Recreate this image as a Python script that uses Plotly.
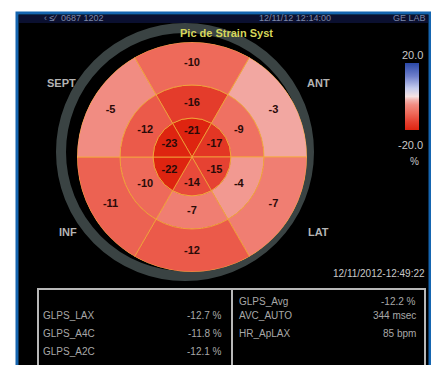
import plotly.graph_objects as go

W, H = 431, 365

# ---------------- data ----------------
segment_angles = [90, 30, -30, -90, 210, 150]          # segment centres (deg)
apical_vals = [-21, -17, -15, -14, -22, -23]
mid_vals = [-16, -9, -4, -7, -10, -12]
basal_vals = [-10, -3, -7, -12, -11, -5]
wall_labels = ["SEPT", "ANT", "INF", "LAT"]
table_left_labels = ["GLPS_LAX", "GLPS_A4C", "GLPS_A2C"]
table_left_values = ["-12.7 %", "-11.8 %", "-12.1 %"]
table_right_labels = ["GLPS_Avg", "AVC_AUTO", "HR_ApLAX"]
table_right_values = ["-12.2 %", "344 msec", "85 bpm"]
scale_min, scale_max = -20.0, 20.0

# ---------------- layout helpers ----------------
ring_edges = [0, 39, 72, 115]
CX, CY, R = 192, 157, 115


def px(x):
    return x / W


def py(y):
    return 1 - y / H


colorscale = [
    [0.0, "#de2410"],
    [0.125, "#e64232"],
    [0.25, "#ee6a5a"],
    [0.375, "#f18c82"],
    [0.45, "#f3b4b0"],
    [0.5, "#f6e2e2"],
    [0.625, "#c4cbee"],
    [0.8, "#7080cc"],
    [1.0, "#2a48a8"],
]

rings = [apical_vals, mid_vals, basal_vals]
thetas, rs, bases, colors = [], [], [], []
for i, vals in enumerate(rings):
    for a, v in zip(segment_angles, vals):
        thetas.append(a)
        bases.append(ring_edges[i])
        rs.append(ring_edges[i + 1] - ring_edges[i])
        colors.append(v)

fig = go.Figure()
fig.add_trace(go.Barpolar(
    r=rs, base=bases, theta=thetas, width=[60] * len(thetas),
    marker=dict(
        color=colors, colorscale=colorscale, cmin=scale_min, cmax=scale_max,
        line=dict(color="rgba(245,170,60,0.8)", width=1),
        showscale=True,
        colorbar=dict(
            x=px(405), xanchor="left", y=py(130), yanchor="bottom",
            len=67, lenmode="pixels", thickness=14, thicknessmode="pixels",
            xpad=0, ypad=0, outlinewidth=0, showticklabels=False, ticks="",
        ),
    ),
    hoverinfo="skip", showlegend=False,
))

label_r = [26, 54, 94]
tr, tt, tx = [], [], []
for i, vals in enumerate(rings):
    for a, v in zip(segment_angles, vals):
        tr.append(label_r[i])
        tt.append(a)
        tx.append(str(v))
fig.add_trace(go.Scatterpolar(
    r=tr, theta=tt, text=tx, mode="text",
    textfont=dict(family="Liberation Sans", size=11, color="#2a0a08", weight="bold"),
    hoverinfo="skip", showlegend=False,
))

fig.update_layout(
    width=W, height=H, margin=dict(l=0, r=0, t=0, b=0),
    paper_bgcolor="white", plot_bgcolor="black",
    polar=dict(
        domain=dict(x=[px(CX - R), px(CX + R)], y=[py(CY + R), py(CY - R)]),
        bgcolor="rgba(0,0,0,0)",
        radialaxis=dict(range=[0, R], visible=False, showgrid=False),
        angularaxis=dict(visible=False, showgrid=False, rotation=0,
                         direction="counterclockwise"),
        bargap=0,
    ),
)

shapes = []
# black panel with blue frame
shapes.append(dict(type="rect", xref="paper", yref="paper", layer="below",
                   x0=px(17), x1=px(430), y0=py(368), y1=py(13),
                   fillcolor="black", line=dict(color="#1565b0", width=3)))
# header strip
shapes.append(dict(type="rect", xref="paper", yref="paper", layer="below",
                   x0=px(19), x1=px(428), y0=py(23), y1=py(15),
                   fillcolor="#0b1030", line=dict(width=0)))
# grey ring
RC, RX, RY = 124, 185, 152
shapes.append(dict(type="circle", xref="paper", yref="paper", layer="below",
                   x0=px(RX - RC), x1=px(RX + RC), y0=py(RY + RC), y1=py(RY - RC),
                   line=dict(color="#3a4343", width=10)))
# table
shapes.append(dict(type="rect", xref="paper", yref="paper", layer="above",
                   x0=px(38), x1=px(425), y0=py(372), y1=py(289),
                   line=dict(color="#b8b8b8", width=2)))
shapes.append(dict(type="line", xref="paper", yref="paper", layer="above",
                   x0=px(232), x1=px(232), y0=py(372), y1=py(289),
                   line=dict(color="#b8b8b8", width=2)))
fig.update_layout(shapes=shapes)

ann = []


def text(x, y, s, size=10, color="#a8a8a8", anchor="center", bold=False, family="Liberation Sans"):
    ann.append(dict(x=px(x), y=py(y), xref="paper", yref="paper", text=s,
                    showarrow=False, xanchor=anchor, yanchor="middle",
                    font=dict(size=size, color=color, family=family,
                              weight="bold" if bold else "normal")))


# header
text(42, 18, "\u2039 \u2264\u2215  0687 1202", 9, "#7d88a8", "left")
text(295, 18, "12/11/12 12:14:00", 9, "#7d88a8")
text(428, 18, "GE LAB", 9, "#7d88a8", "right")
# title
text(226, 33, "Pic de Strain Syst", 11, "#d6d65a", bold=True)
# wall labels
wall_pos = [(61, 83), (318, 83), (68, 232), (318, 232)]
for lab, (x, y) in zip(wall_labels, wall_pos):
    text(x, y, lab, 11, "#b4b4b4", bold=True)
# colour bar labels
text(412, 55, f"{scale_max:.1f}", 11, "#c8c8c8")
text(410, 145, f"{scale_min:.1f}", 11, "#c8c8c8")
text(414, 162, "%", 10, "#c8c8c8")
# timestamp
text(427, 273, "12/11/2012-12:49:22", 10, "#c8c8c8", "right")
# table
ys_left = [315, 333, 351]
for lab, val, y in zip(table_left_labels, table_left_values, ys_left):
    text(41, y, lab, 10, "#a8a8a8", "left")
    text(224, y, val, 10, "#a8a8a8", "right")
ys_right = [301, 315, 333]
for lab, val, y in zip(table_right_labels, table_right_values, ys_right):
    text(237, y, lab, 10, "#a8a8a8", "left")
    text(418, y, val, 10, "#a8a8a8", "right")

fig.update_layout(annotations=ann)
fig.write_html("out.html")
